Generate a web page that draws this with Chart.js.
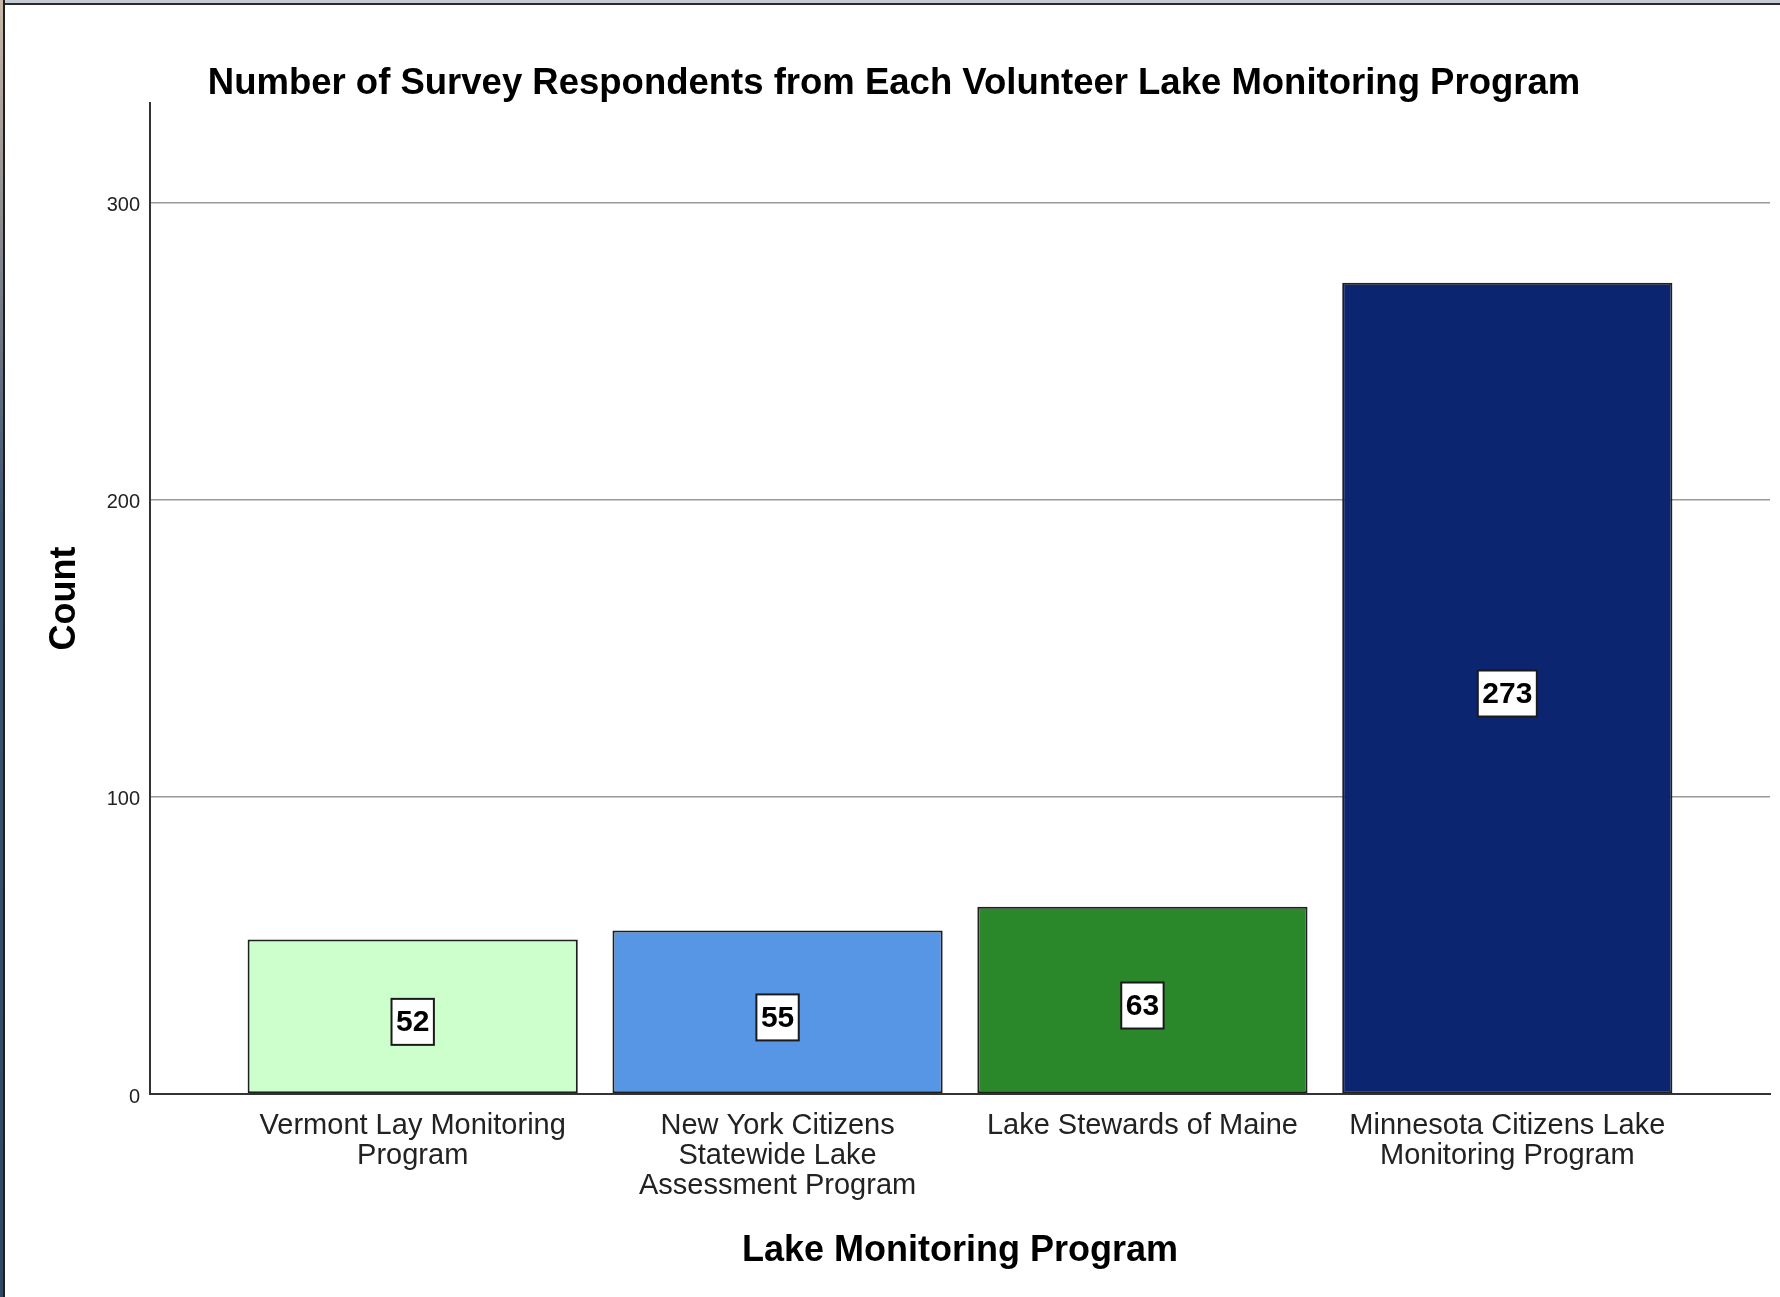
<!DOCTYPE html>
<html lang="en">

<head>
    <meta charset="UTF-8">
    <title>Lake Monitoring Program</title>
    <style>
        body {
            margin: 0;
            padding: 0;
            background-color: #ffffff;
            font-family: "Liberation Sans", Arial, sans-serif;
        }

        .wrap {
            position: relative;
            width: 1780px;
            height: 1297px;
        }

        /* window frame of the screenshot */
        .frame-left {
            position: absolute;
            left: 0;
            top: 0;
            width: 3px;
            height: 1297px;
            background: linear-gradient(#c9b8a8, #3c5370 40%, #2f4763);
            border-right: 2px solid #1e1e1e;
        }

        .frame-top {
            position: absolute;
            left: 0;
            top: 0;
            width: 1780px;
            height: 3px;
            background-color: #c5ccd4;
            border-bottom: 2px solid #2a2a2a;
        }
    </style>
</head>

<body>
    <div class="wrap">
        <canvas id="chart1" width="1780" height="1297"></canvas>
        <div class="frame-top"></div>
        <div class="frame-left"></div>
    </div>

    <script src="https://cdn.jsdelivr.net/npm/chart.js"></script>

    <script>
        // dados do gráfico
        const programas = [
            ['Vermont Lay Monitoring', 'Program'],
            ['New York Citizens', 'Statewide Lake', 'Assessment Program'],
            ['Lake Stewards of Maine'],
            ['Minnesota Citizens Lake', 'Monitoring Program']
        ];
        const contagens = [52, 55, 63, 273];
        const cores = ['#ccffcc', '#5796e4', '#2a872a', '#0b2570'];
        const yTicks = [0, 100, 200, 300];

        const fonte = '"Liberation Sans", Arial, sans-serif';

        // caixa branca com o valor no meio de cada barra
        const rotulosPlugin = {
            id: 'rotulos',
            afterDatasetsDraw(chart) {
                const ctx = chart.ctx;
                const meta = chart.getDatasetMeta(0);
                ctx.save();
                ctx.font = 'bold 30px ' + fonte;
                ctx.textAlign = 'center';
                ctx.textBaseline = 'middle';
                meta.data.forEach((bar, i) => {
                    const texto = String(contagens[i]);
                    const w = ctx.measureText(texto).width + 9;
                    const h = 46;
                    const cx = bar.x;
                    const cy = (bar.y + bar.base) / 2 + 5.5;
                    ctx.fillStyle = '#ffffff';
                    ctx.fillRect(cx - w / 2, cy - h / 2, w, h);
                    ctx.lineWidth = 2;
                    ctx.strokeStyle = '#1a1a1a';
                    ctx.strokeRect(cx - w / 2, cy - h / 2, w, h);
                    ctx.fillStyle = '#000000';
                    ctx.fillText(texto, cx, cy + 1);
                });
                ctx.restore();
            }
        };

        const ctx = document.getElementById('chart1').getContext('2d');
        new Chart(ctx, {
            type: 'bar',
            data: {
                datasets: [{
                    data: contagens.map((v, i) => ({ x: i, y: v })),
                    backgroundColor: cores,
                    borderColor: '#1f1f1f',
                    borderWidth: 2,
                    borderSkipped: false,
                    barPercentage: 0.905,
                    categoryPercentage: 1
                }]
            },
            options: {
                responsive: false,
                animation: false,
                layout: {
                    padding: { left: 18, top: 0, right: 10, bottom: 0 }
                },
                plugins: {
                    legend: { display: false },
                    tooltip: { enabled: false },
                    title: {
                        display: true,
                        text: 'Number of Survey Respondents from Each Volunteer Lake Monitoring Program',
                        color: '#000000',
                        font: { family: fonte, size: 36.5, weight: 'bold', lineHeight: 1 },
                        padding: { top: 66, bottom: 0.5 }
                    }
                },
                scales: {
                    x: {
                        type: 'linear',
                        offset: false,
                        min: -0.72,
                        max: 3.72,
                        afterBuildTicks: scale => {
                            scale.ticks = programas.map((p, i) => ({ value: i }));
                        },
                        afterFit: scale => {
                            scale.height = 203;
                        },
                        grid: { display: false, offset: false },
                        border: { color: '#333333', width: 2 },
                        ticks: {
                            autoSkip: false,
                            maxRotation: 0,
                            padding: 9,
                            color: '#222222',
                            font: { family: fonte, size: 29, lineHeight: 1.04 },
                            callback: value => programas[value] || ''
                        },
                        title: {
                            display: true,
                            text: 'Lake Monitoring Program',
                            color: '#000000',
                            font: { family: fonte, size: 36, weight: 'bold' },
                            padding: { top: 0, bottom: 24 }
                        }
                    },
                    y: {
                        min: 0,
                        max: 333.5,
                        afterBuildTicks: scale => {
                            scale.ticks = yTicks.map(v => ({ value: v }));
                        },
                        afterFit: scale => {
                            scale.width = 132;
                        },
                        grid: {
                            color: '#9a9a9a',
                            lineWidth: 1.5,
                            drawTicks: false
                        },
                        border: { color: '#333333', width: 2 },
                        ticks: {
                            padding: 10,
                            labelOffset: 3,
                            color: '#222222',
                            font: { family: fonte, size: 20 }
                        },
                        title: {
                            display: true,
                            text: 'Count',
                            color: '#000000',
                            font: { family: fonte, size: 36, weight: 'bold' },
                            padding: { top: 25, bottom: 0 }
                        }
                    }
                }
            },
            plugins: [rotulosPlugin]
        });
    </script>

</body>

</html>
